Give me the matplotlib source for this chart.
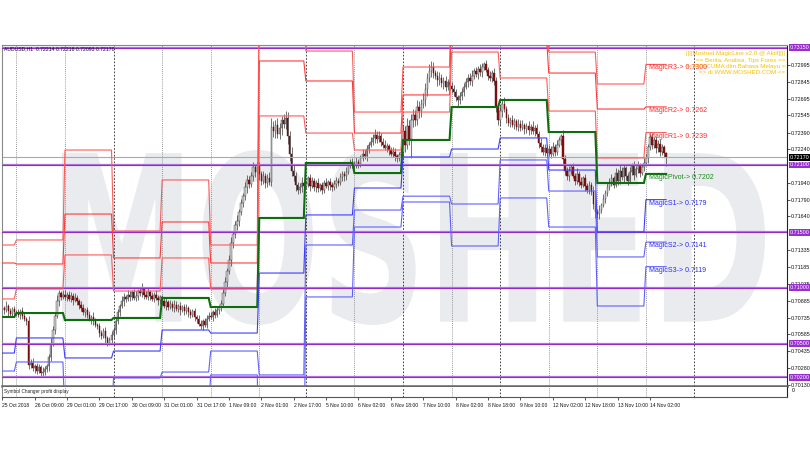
import numpy as np
import matplotlib
matplotlib.use("Agg")
import matplotlib.pyplot as plt
from matplotlib.textpath import TextPath
from matplotlib.patches import PathPatch
from matplotlib.font_manager import FontProperties
from matplotlib.transforms import Affine2D, blended_transform_factory

plt.rcParams['font.family'] = ['Liberation Sans', 'DejaVu Sans']

# ---------------- data ----------------
# first bar index of every trading day (25 Oct .. 14 Nov 2018, H1 bars)
DAY_START = [0, 7, 31, 55, 79, 103, 127, 150, 174, 198, 222, 246, 270, 294, 318]
FUTURE_DAY = 342
FIRST_OPEN = 7080

# hourly closes (pips, /10000) grouped by day
CLOSE_BY_DAY = [
    [7082, 7080, 7084, 7079, 7077, 7081, 7078],
    [7078, 7076, 7079, 7075, 7072, 7070, 7031, 7033, 7028, 7030, 7026, 7029, 7024, 7025, 7027, 7030, 7038, 7050, 7062, 7075, 7088, 7095, 7092, 7094],
    [7092, 7094, 7090, 7093, 7089, 7091, 7088, 7085, 7082, 7078, 7080, 7076, 7072, 7074, 7070, 7067, 7066, 7060, 7057, 7061, 7055, 7051, 7053, 7058],
    [7062, 7070, 7078, 7084, 7088, 7092, 7090, 7094, 7092, 7096, 7091, 7093, 7097, 7095, 7099, 7094, 7092, 7096, 7093, 7090, 7094, 7091, 7089, 7092],
    [7088, 7084, 7087, 7083, 7086, 7082, 7085, 7081, 7084, 7080, 7083, 7079, 7082, 7078, 7076, 7079, 7074, 7072, 7068, 7066, 7070, 7067, 7072, 7075],
    [7074, 7078, 7076, 7080, 7083, 7086, 7095, 7105, 7115, 7125, 7140, 7148, 7156, 7160, 7168, 7176, 7182, 7190, 7197, 7193, 7200, 7208, 7204, 7209],
    [7202, 7196, 7200, 7194, 7198, 7195, 7244, 7240, 7246, 7238, 7243, 7250, 7247, 7252, 7236, 7220, 7205, 7200, 7192, 7188, 7190, 7194, 7191],
    [7193, 7198, 7191, 7196, 7190, 7194, 7189, 7192, 7188, 7194, 7191, 7195, 7192, 7190, 7193, 7196, 7194, 7199, 7202, 7200, 7204, 7210, 7213, 7211],
    [7209, 7213, 7211, 7216, 7220, 7218, 7224, 7228, 7231, 7234, 7237, 7233, 7236, 7231, 7228, 7225, 7227, 7223, 7220, 7222, 7218, 7216, 7219, 7222],
    [7240, 7228, 7245, 7233, 7250, 7255, 7250, 7262, 7258, 7265, 7268, 7278, 7288, 7294, 7298, 7292, 7290, 7286, 7288, 7283, 7285, 7280, 7284, 7281],
    [7278, 7275, 7271, 7268, 7272, 7275, 7280, 7284, 7288, 7285, 7290, 7294, 7291, 7296, 7293, 7298, 7300, 7295, 7290, 7288, 7292, 7285, 7262, 7250],
    [7258, 7265, 7260, 7252, 7248, 7250, 7246, 7249, 7244, 7247, 7243, 7246, 7242, 7245, 7241, 7244, 7240, 7243, 7238, 7230, 7226, 7222, 7225, 7221],
    [7224, 7220, 7226, 7222, 7228, 7232, 7236, 7215, 7205, 7200, 7205, 7208, 7200, 7196, 7202, 7195, 7192, 7198, 7191, 7188, 7192, 7186, 7175, 7168],
    [7166, 7170, 7174, 7180, 7185, 7190, 7195, 7198, 7192, 7203, 7196, 7205, 7199, 7207, 7200, 7196, 7204, 7209, 7201, 7206, 7210, 7203, 7208, 7212],
    [7216, 7226, 7235, 7228, 7232, 7225, 7229, 7222, 7226, 7221, 7217],
]
# upper / lower wick lengths in pips
UP_BY_DAY = [
    [3, 2, 4, 2, 3, 2, 3],
    [2, 3, 2, 4, 3, 2, 5, 3, 4, 2, 3, 3, 2, 4, 3, 2, 3, 5, 4, 3, 6, 3, 2, 4],
    [4, 2, 3, 3, 2, 4, 3, 2, 3, 4, 2, 3, 3, 2, 4, 3, 2, 3, 2, 3, 4, 2, 3, 3],
    [3, 4, 3, 2, 5, 3, 2, 4, 3, 2, 3, 4, 2, 3, 5, 2, 3, 4, 2, 3, 2, 4, 3, 2],
    [2, 3, 4, 2, 3, 2, 4, 3, 2, 3, 2, 3, 4, 2, 3, 2, 3, 2, 4, 3, 2, 3, 4, 3],
    [3, 2, 4, 3, 2, 3, 4, 5, 3, 4, 6, 3, 4, 5, 3, 4, 3, 5, 4, 3, 4, 5, 3, 4],
    [4, 3, 5, 3, 4, 6, 8, 5, 4, 6, 5, 4, 6, 6, 5, 4, 6, 5, 4, 3, 4, 5, 3],
    [3, 2, 4, 3, 2, 3, 4, 2, 3, 3, 4, 2, 3, 3, 4, 3, 2, 4, 3, 3, 4, 3, 2, 3],
    [3, 4, 2, 3, 4, 3, 4, 3, 4, 4, 5, 3, 4, 3, 3, 4, 3, 2, 3, 4, 3, 2, 3, 4],
    [6, 5, 7, 5, 6, 5, 4, 6, 5, 4, 6, 5, 4, 6, 5, 4, 3, 4, 5, 3, 4, 5, 3, 4],
    [3, 4, 3, 2, 3, 4, 3, 4, 3, 4, 5, 3, 4, 3, 4, 3, 2, 4, 3, 4, 3, 5, 4, 3],
    [5, 4, 6, 3, 4, 3, 5, 3, 2, 4, 3, 4, 2, 3, 4, 3, 5, 3, 4, 2, 4, 3, 4, 3],
    [4, 3, 5, 3, 4, 3, 2, 5, 4, 3, 4, 2, 4, 3, 5, 3, 4, 2, 4, 3, 4, 3, 5, 3],
    [3, 4, 2, 4, 3, 5, 3, 4, 2, 4, 3, 5, 3, 4, 2, 3, 4, 3, 5, 3, 4, 2, 3, 4],
    [4, 3, 3, 4, 3, 4, 3, 4, 3, 2, 1],
]
DN_BY_DAY = [
    [2, 3, 2, 4, 3, 2, 3],
    [3, 2, 4, 3, 2, 3, 4, 3, 2, 4, 3, 2, 3, 4, 3, 2, 4, 3, 2, 3, 2, 4, 3, 2],
    [3, 4, 2, 3, 4, 2, 3, 4, 3, 2, 4, 3, 2, 4, 3, 2, 3, 4, 3, 2, 4, 3, 2, 3],
    [4, 3, 2, 3, 2, 4, 3, 2, 4, 3, 2, 3, 4, 2, 3, 4, 2, 3, 4, 2, 3, 2, 4, 3],
    [3, 2, 4, 3, 2, 3, 4, 2, 3, 4, 2, 3, 2, 4, 3, 2, 4, 3, 2, 3, 4, 2, 3, 2],
    [2, 4, 3, 2, 3, 4, 3, 2, 4, 3, 5, 4, 3, 4, 5, 3, 4, 3, 5, 4, 3, 4, 5, 3],
    [5, 4, 3, 5, 4, 3, 4, 5, 6, 4, 5, 6, 4, 5, 7, 6, 5, 4, 5, 4, 3, 4, 3],
    [2, 3, 4, 2, 3, 4, 3, 2, 4, 3, 2, 3, 4, 3, 2, 4, 3, 2, 3, 4, 3, 2, 3, 4],
    [3, 2, 4, 3, 2, 3, 4, 3, 2, 3, 4, 3, 2, 4, 3, 2, 3, 4, 2, 3, 4, 3, 2, 3],
    [5, 6, 4, 5, 17, 6, 5, 4, 6, 5, 4, 5, 6, 4, 5, 4, 3, 5, 4, 3, 5, 4, 3, 4],
    [4, 3, 4, 5, 3, 4, 3, 2, 4, 3, 4, 3, 2, 4, 3, 4, 3, 2, 4, 3, 4, 3, 5, 4],
    [4, 5, 3, 4, 3, 4, 2, 4, 3, 4, 3, 2, 4, 3, 4, 3, 2, 4, 3, 5, 4, 3, 4, 3],
    [3, 4, 2, 4, 3, 2, 4, 5, 4, 3, 4, 3, 2, 4, 3, 4, 3, 2, 4, 3, 4, 3, 4, 5],
    [3, 4, 3, 2, 4, 3, 2, 4, 3, 2, 4, 3, 2, 4, 3, 4, 2, 3, 4, 2, 3, 4, 2, 3],
    [3, 4, 3, 4, 3, 4, 3, 4, 3, 4, 8],
]

# daily MagicLine levels (R3, R2, R1, Pivot, S1, S2, S3) for each day
R3 = [0.71384, 0.71429, 0.72234, 0.71509, 0.71966, 0.71384, 0.73944, 0.73120, 0.72574, 0.72977, 0.74006, 0.73416, 0.73111, 0.72825, 0.7300]
R2 = [0.71223, 0.71214, 0.71661, 0.71268, 0.71590, 0.71223, 0.73031, 0.72852, 0.72386, 0.72727, 0.73487, 0.73219, 0.72923, 0.72601, 0.7262]
R1 = [0.70901, 0.70990, 0.71295, 0.70972, 0.71268, 0.70990, 0.72539, 0.72386, 0.72234, 0.72574, 0.73111, 0.72879, 0.72583, 0.72163, 0.7239]
PV = [0.70740, 0.70775, 0.70713, 0.70731, 0.70910, 0.70829, 0.71626, 0.72118, 0.72028, 0.72324, 0.72619, 0.72682, 0.72395, 0.71939, 0.7202]
S1 = [0.70417, 0.70552, 0.70373, 0.70435, 0.70623, 0.70596, 0.71133, 0.71653, 0.71894, 0.72172, 0.72243, 0.72342, 0.72055, 0.71500, 0.7179]
S2 = [0.70256, 0.70337, 0.69818, 0.70194, 0.70247, 0.70435, 0.70221, 0.71384, 0.71697, 0.71821, 0.71751, 0.72145, 0.71867, 0.71277, 0.7141]
S3 = [0.69934, 0.70113, 0.69281, 0.69898, 0.69907, 0.70221, 0.69308, 0.70919, 0.71545, 0.71769, 0.71375, 0.71805, 0.71545, 0.70838, 0.7119]

LEVEL_NAMES = ["MagicR3", "MagicR2", "MagicR1", "MagicPivot", "MagicS1", "MagicS2", "MagicS3"]

# horizontal support/resistance lines and price scale
HLINES = [0.73150, 0.72100, 0.71500, 0.71000, 0.70500, 0.70200]
CURRENT_PRICE = 0.72170
PRICE_TICKS = [0.72995, 0.72845, 0.72695, 0.72545, 0.72390, 0.72240, 0.71940, 0.71790,
               0.71640, 0.71335, 0.71185, 0.71035, 0.70885, 0.70735, 0.70585, 0.70435,
               0.70280, 0.70130]

TIME_TICKS = list(range(0, 321, 16))
TIME_LABELS = ["25 Oct 2018", "26 Oct 09:00", "29 Oct 01:00", "29 Oct 17:00", "30 Oct 09:00",
               "31 Oct 01:00", "31 Oct 17:00", "1 Nov 09:00", "2 Nov 01:00", "2 Nov 17:00",
               "5 Nov 10:00", "6 Nov 02:00", "6 Nov 18:00", "7 Nov 10:00", "8 Nov 02:00",
               "8 Nov 18:00", "9 Nov 10:00", "12 Nov 02:00", "12 Nov 18:00", "13 Nov 10:00",
               "14 Nov 02:00"]
DARK_SEPARATORS = [55, 150, 198, 246, 342]

INFO_LINES = ["|||[Moshed MagicLine v2.0 @ Aktif]|||",
              "== Berita, Analisa, Tips Forex ==",
              "== PERCUMA dlm Bahasa Melayu =",
              "=> di WWW.MOSHED.COM <="]

# ---------------- build series ----------------
close = np.array(sum(CLOSE_BY_DAY, [])) / 10000.0
up = np.array(sum(UP_BY_DAY, [])) / 10000.0
dn = np.array(sum(DN_BY_DAY, [])) / 10000.0
opn = np.r_[FIRST_OPEN / 10000.0, close[:-1]]
hi = np.maximum(opn, close) + up
lo = np.minimum(opn, close) - dn
n = len(close)
idx = np.arange(n)
day_of = np.searchsorted(DAY_START, idx, side='right') - 1

# ---------------- figure ----------------
fig = plt.figure(figsize=(8.1, 4.5), dpi=100)
fig.patch.set_facecolor('white')
ax = fig.add_axes([2 / 810, 1 - 386 / 450, 785 / 810, 341 / 450])
ax2 = fig.add_axes([2 / 810, 1 - 397 / 450, 785 / 810, 10.5 / 450])

XMIN, XMAX = -0.1, 387.7
ax.set_xlim(XMIN, XMAX)
ax.set_ylim(0.70122, 0.73174)
ax2.set_xlim(XMIN, XMAX)
ax2.set_ylim(0, 1)

# watermark
tp = TextPath((0, 0), "MOSHED", size=100, prop=FontProperties(family='DejaVu Sans', weight='bold'))
ext = tp.get_extents()
x0, x1, y0, y1 = 0.0764, 0.972, 0.179, 0.692
tr = Affine2D().translate(-ext.x0, -ext.y0).scale((x1 - x0) / ext.width, (y1 - y0) / ext.height).translate(x0, y0)
ax.add_patch(PathPatch(tp, transform=tr + ax.transAxes, facecolor='#e9ebee', edgecolor='none', zorder=0))

# day separators
for d in DAY_START[1:] + [FUTURE_DAY]:
    if d in DARK_SEPARATORS:
        sty = dict(color='#222222', lw=0.6, ls=(0, (2, 2)), zorder=1)
    else:
        sty = dict(color='#777777', lw=0.6, ls=(0, (1, 1.5)), zorder=1)
    ax.axvline(d, **sty)
    ax2.axvline(d, **sty)

# horizontal purple levels and current price line
for h in HLINES:
    ax.axhline(h, color='#b070e0', lw=1.6, zorder=2.5)
    ax.axhline(h, color='#8a1fc8', lw=0.6, zorder=2.6)
ax.axhline(CURRENT_PRICE, color='#a8a8b8', lw=0.8, zorder=2.4)

# candles
bull = close >= opn
ax.vlines(idx, lo, hi, color='#4a4a4a', lw=0.55, zorder=2)
body_lo = np.minimum(opn, close)
body_h = np.maximum(np.abs(close - opn), 0.00002)
ax.bar(idx[bull], body_h[bull], bottom=body_lo[bull], width=0.7,
       color='#d0d0d0', edgecolor='#3a3a3a', linewidth=0.3, zorder=2.1)
ax.bar(idx[~bull], body_h[~bull], bottom=body_lo[~bull], width=0.7,
       color='#8b1010', edgecolor='#5a0808', linewidth=0.3, zorder=2.1)

# magic lines
levels = [R3, R2, R1, PV, S1, S2, S3]
colors = ['#ff5a5a', '#ff3a3a', '#ff5a5a', '#0d6e0d', '#3c3cff', '#6060ff', '#6060ff']
widths = [0.8, 0.8, 0.8, 1.5, 0.8, 0.8, 0.8]
for lv, c, w in zip(levels, colors, widths):
    ax.plot(idx, np.array(lv)[day_of], color=c, lw=w, zorder=3, solid_joinstyle='miter')

label_colors = ['#ff2a2a', '#ff2a2a', '#ff2a2a', '#1a8a1a', '#2a2aff', '#2a2aff', '#2a2aff']
for name, lv, c in zip(LEVEL_NAMES, levels, label_colors):
    ax.text(DAY_START[-1] + 1.5, lv[-1], f"{name}-> {lv[-1]:.4f}", color=c, fontsize=5.0,
            va='top', ha='left', zorder=5)

# texts
ax.text(0.002, 0.996, "AUDUSD,H1  0.72214 0.72218 0.72093 0.72170", transform=ax.transAxes,
        fontsize=3.7, va='top', ha='left', color='#111111', zorder=6)
for i, line in enumerate(INFO_LINES):
    fig.text(785 / 810, 1 - (54 + 6.1 * i) / 450, line, ha='right', va='center',
             fontsize=4.4, color='#f5c000')
ax2.text(0.003, 0.5, "Symbol Changer profit display", transform=ax2.transAxes,
         fontsize=3.4, va='center', ha='left', color='#222222')
fig.text(792 / 810, 1 - 391 / 450, "0", fontsize=3.8, va='center', ha='left')

# price axis
ax.yaxis.tick_right()
ax.set_yticks(PRICE_TICKS)
ax.set_yticklabels([f"{p:.5f}" for p in PRICE_TICKS])
ax.tick_params(axis='y', which='both', length=2, width=0.5, labelsize=3.9, pad=1, colors='#111111')
ax.set_xticks([])
bt = blended_transform_factory(ax.transAxes, ax.transData)
for h in HLINES:
    ax.text(1.0035, h, f"{h:.5f}", transform=bt, fontsize=3.9, color='white', va='center', ha='left',
            bbox=dict(boxstyle='square,pad=0.18', fc='#9a2fd0', ec='none'), clip_on=False, zorder=7)
ax.text(1.0035, CURRENT_PRICE, f"{CURRENT_PRICE:.5f}", transform=bt, fontsize=3.9, color='white',
        va='center', ha='left', bbox=dict(boxstyle='square,pad=0.18', fc='#000000', ec='none'),
        clip_on=False, zorder=7)

# time axis
ax2.set_yticks([])
ax2.set_xticks(TIME_TICKS)
ax2.set_xticklabels(TIME_LABELS, ha='left')
ax2.tick_params(axis='x', length=2.5, width=0.5, labelsize=3.6, pad=1.5, colors='#111111')

# frames
for s in ['top', 'left']:
    ax.spines[s].set_color('#888888'); ax.spines[s].set_linewidth(0.8)
ax.spines['right'].set_color('#222222'); ax.spines['right'].set_linewidth(0.8)
ax.spines['bottom'].set_color('#666666'); ax.spines['bottom'].set_linewidth(1.8)
ax2.spines['top'].set_visible(False)
ax2.spines['left'].set_color('#888888')
ax2.spines['right'].set_color('#222222')
ax2.spines['bottom'].set_color('#555555')
for s in ax2.spines.values():
    s.set_linewidth(0.8)

fig.savefig("out.png", dpi=100, facecolor='white')
